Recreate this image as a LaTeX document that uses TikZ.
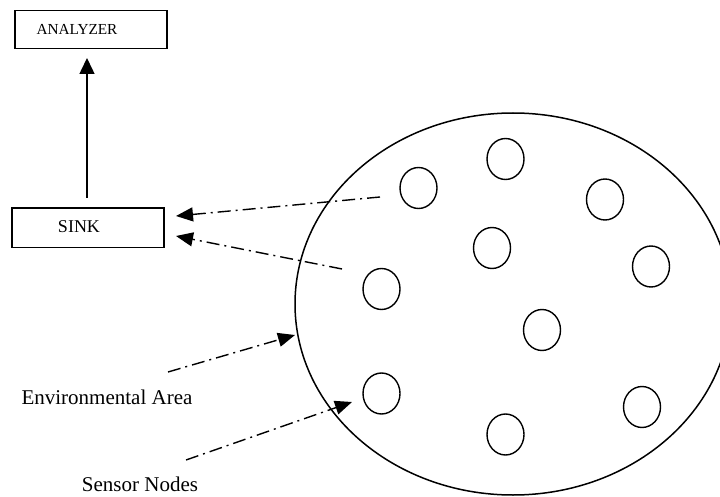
\documentclass[tikz,border=0pt]{standalone}
\usepackage{fontspec}
\setmainfont{Liberation Serif}
\usetikzlibrary{shapes.geometric,arrows.meta}
\begin{document}
\begin{tikzpicture}[x=1pt,y=-1pt,
  every node/.style={inner sep=0pt},
  box/.style={draw,line width=1.5pt,rectangle,anchor=north west},
  sensor/.style={draw,line width=1.4pt,ellipse,minimum width=37pt,minimum height=41pt},
  area/.style={draw,line width=1.5pt,ellipse,minimum width=436pt,minimum height=382pt},
  flow/.style={line width=1.4pt,dash pattern=on 13pt off 5pt on 2pt off 5pt,-{Triangle[length=17pt,width=14pt]}},
  up/.style={line width=1.5pt,-{Triangle[length=16pt,width=15pt]}},
  lbl/.style={anchor=base}]
\useasboundingbox (0,0) rectangle (720,497);

% boxes
\node[box,minimum width=152pt,minimum height=38pt] (analyzer) at (14,10) {};
\node[font=\fontsize{15.3}{18}\selectfont] (analyzertext) at (77,29) {ANALYZER};
\node[box,minimum width=152pt,minimum height=39pt] (sink) at (11,207.5) {};
\node[font=\fontsize{18}{21}\selectfont] (sinktext) at (79,227) {SINK};

% environment area
\node[area] (env) at (513,304) {};

% sensors
\node[sensor] (s1) at (418.5,188) {};
\node[sensor] (s2) at (505.5,159) {};
\node[sensor] (s3) at (605,199.5) {};
\node[sensor] (s4) at (492,248) {};
\node[sensor] (s5) at (651,266.5) {};
\node[sensor] (s6) at (381.5,289) {};
\node[sensor] (s7) at (542,330) {};
\node[sensor] (s8) at (381.5,393.5) {};
\node[sensor] (s9) at (505.5,434.5) {};
\node[sensor] (s10) at (642,407) {};

% labels
\node[lbl,font=\fontsize{21}{24}\selectfont] (envlabel) at (107,404) {Environmental Area};
\node[lbl,font=\fontsize{21}{24}\selectfont] (senslabel) at (140,491) {Sensor Nodes};

% connector end points
\coordinate (a1s) at (380,197);
\coordinate (a1e) at (176,216);
\coordinate (a2s) at (342,269);
\coordinate (a2e) at (176,236);
\coordinate (a3s) at (168,372);
\coordinate (a3e) at (295,335);
\coordinate (a4s) at (186,460);
\coordinate (a4e) at (352,402);
\coordinate (upS) at (87,198);
\coordinate (upE) at (87,58);

% connectors
\draw[up] (upS) -- (upE);
\draw[flow] (a1s) -- (a1e);
\draw[flow] (a2s) -- (a2e);
\draw[flow] (a3s) -- (a3e);
\draw[flow] (a4s) -- (a4e);
\end{tikzpicture}
\end{document}
